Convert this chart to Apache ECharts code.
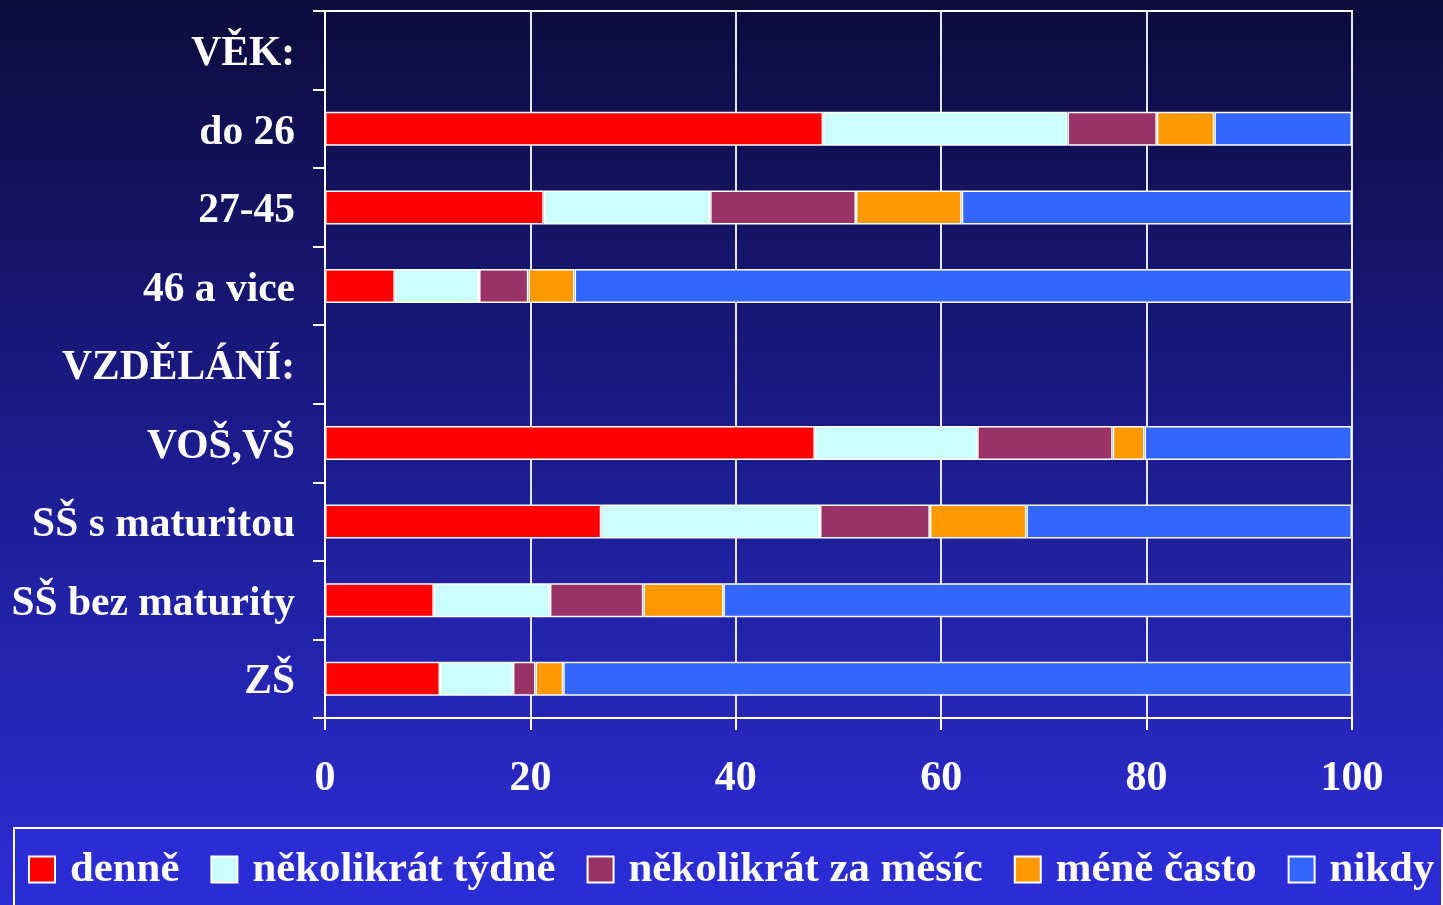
<!DOCTYPE html>
<html><head><meta charset="utf-8">
<script src="https://cdn.jsdelivr.net/npm/echarts@6/dist/echarts.min.js"></script>
<style>html,body{margin:0;padding:0;}#c{width:1443px;height:905px;}</style>
</head><body><div id="c"></div>
<script>
const categories = ['VĚK:', 'do 26', '27-45', '46 a vice', 'VZDĚLÁNÍ:', 'VOŠ,VŠ', 'SŠ s maturitou', 'SŠ bez maturity', 'ZŠ'];
const seriesNames = ['denně', 'několikrát týdně', 'několikrát za měsíc', 'méně často', 'nikdy'];
const denne   = [null, 48.5, 21.3, 6.8, null, 47.7, 26.9, 10.6, 11.2];
const tydne   = [null, 23.8, 16.2, 8.2, null, 15.8, 21.3, 11.3, 7.1];
const mesic   = [null, 8.7, 14.2, 4.8, null, 13.2, 10.7, 9.1, 2.2];
const mene    = [null, 5.6, 10.3, 4.5, null, 3.1, 9.4, 7.8, 2.7];
const nikdy   = [null, 13.4, 38.0, 75.7, null, 20.2, 31.7, 61.2, 76.8];
const xTicks = [0, 20, 40, 60, 80, 100];
const colors = ['#ff0000', '#ccffff', '#993366', '#ff9900', '#3366ff'];
const values = [denne, tydne, mesic, mene, nikdy];

const font = '"Liberation Serif", "Times New Roman", serif';
const chart = echarts.init(document.getElementById('c'));
chart.setOption({
  backgroundColor: {type: 'linear', x: 0, y: 0, x2: 0, y2: 1, colorStops: [
    {offset: 0, color: '#0c0c3c'}, {offset: 0.45, color: '#1a1a86'}, {offset: 1, color: '#2d2dd6'}]},
  animation: false,
  textStyle: {fontFamily: font},
  graphic: [{
    type: 'rect', left: 13, top: 827, z: 0,
    shape: {width: 1428, height: 90},
    style: {fill: '#2c2cd4', stroke: '#ffffff', lineWidth: 2}
  }],
  grid: {left: 325, right: 91, top: 11, bottom: 187, show: true, borderColor: '#ffffff', borderWidth: 2},
  xAxis: {
    type: 'value', min: xTicks[0], max: xTicks[xTicks.length - 1], interval: 20,
    axisLine: {show: true, lineStyle: {color: '#ffffff', width: 2}},
    axisTick: {show: true, length: 12, lineStyle: {color: '#ffffff', width: 2}},
    splitLine: {show: true, lineStyle: {color: '#e6e6f2', width: 2}},
    axisLabel: {color: '#ffffff', fontSize: 42, fontWeight: 'bold', fontFamily: font, margin: 40}
  },
  yAxis: {
    type: 'category', data: categories, inverse: true,
    axisLine: {show: true, lineStyle: {color: '#ffffff', width: 2}},
    axisTick: {show: true, length: 12, lineStyle: {color: '#ffffff', width: 2}},
    axisLabel: {
      margin: 30,
      formatter: v => '{l|' + v + '}',
      rich: {l: {color: '#ffffff', fontSize: 41.5, fontWeight: 'bold', fontFamily: font, padding: [8, 0, 0, 0]}}
    }
  },
  legend: {
    show: true, data: seriesNames, left: 13, top: 838, width: 1430,
    padding: [10, 0, 10, 15],
    itemWidth: 26, itemHeight: 26, itemGap: 31, icon: 'rect',
    itemStyle: {borderColor: '#ffffff', borderWidth: 2},
    textStyle: {color: '#ffffff', fontSize: 42.8, fontWeight: 'bold', fontFamily: font, padding: [0, 0, 0, 10]}
  },
  series: seriesNames.map((n, i) => ({
    name: n, type: 'bar', stack: 'all', data: values[i], barWidth: 34,
    itemStyle: {color: colors[i], borderColor: '#ffffff', borderWidth: 1.5}
  }))
});
</script></body></html>
